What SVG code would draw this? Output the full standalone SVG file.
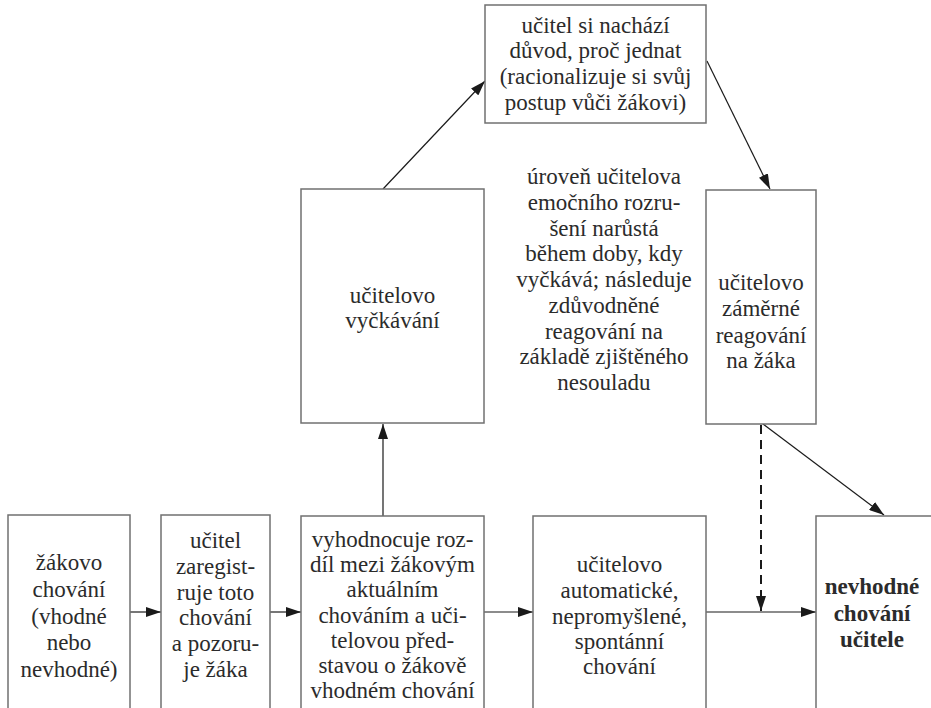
<svg xmlns="http://www.w3.org/2000/svg" width="931" height="708" viewBox="0 0 931 708">
<style>
.box{fill:#fff;stroke:#707070;stroke-width:1.5}
.t{font-family:"Liberation Serif","Times New Roman",serif;font-size:23px;fill:#2b2b2b;text-anchor:middle}
.b{font-weight:bold}
.c{stroke:#1a1a1a;stroke-width:1.2;fill:none}
.d{stroke:#1a1a1a;stroke-width:2;stroke-dasharray:9 6;fill:none}
</style>
<defs>
<marker id="ah" viewBox="0 0 15 10" refX="15" refY="5" markerWidth="15" markerHeight="10" markerUnits="userSpaceOnUse" orient="auto">
<path d="M0,0 L15,5 L0,10 z" fill="#1a1a1a"/>
</marker>
</defs>
<rect width="931" height="708" fill="#fff"/>
<g id="connectors">
<line class="c" x1="130" y1="612" x2="161" y2="612" marker-end="url(#ah)"/>
<line class="c" x1="270" y1="612" x2="301" y2="612" marker-end="url(#ah)"/>
<line class="c" x1="484" y1="612" x2="533" y2="612" marker-end="url(#ah)"/>
<line class="c" x1="706" y1="612" x2="816" y2="612" marker-end="url(#ah)"/>
<line class="c" x1="383" y1="516" x2="383" y2="424" marker-end="url(#ah)"/>
<line class="c" x1="383" y1="189" x2="485" y2="81" marker-end="url(#ah)"/>
<line class="c" x1="707" y1="61" x2="770" y2="189" marker-end="url(#ah)"/>
<line class="c" x1="763" y1="424" x2="884" y2="515" marker-end="url(#ah)"/>
<line class="d" x1="761" y1="425" x2="761" y2="611" marker-end="url(#ah)"/>
</g>
<g id="n1">
<rect class="box" x="8" y="515" width="122" height="200"/>
<text class="t" x="69" y="570">žákovo</text>
<text class="t" x="69" y="597">chování</text>
<text class="t" x="69" y="624">(vhodné</text>
<text class="t" x="69" y="650">nebo</text>
<text class="t" x="69" y="677">nevhodné)</text>
</g>
<g id="n2">
<rect class="box" x="161" y="515" width="109" height="200"/>
<text class="t" x="215.5" y="548">učitel</text>
<text class="t" x="215.5" y="574">zaregist-</text>
<text class="t" x="215.5" y="600">ruje toto</text>
<text class="t" x="215.5" y="625">chování</text>
<text class="t" x="215.5" y="651">a pozoru-</text>
<text class="t" x="215.5" y="677">je žáka</text>
</g>
<g id="n3">
<rect class="box" x="301" y="516" width="183" height="200"/>
<text class="t" x="392.5" y="547">vyhodnocuje roz-</text>
<text class="t" x="392.5" y="572">díl mezi žákovým</text>
<text class="t" x="392.5" y="597">aktuálním</text>
<text class="t" x="392.5" y="623">chováním a uči-</text>
<text class="t" x="392.5" y="648">telovou před-</text>
<text class="t" x="392.5" y="673">stavou o žákově</text>
<text class="t" x="392.5" y="698">vhodném chování</text>
</g>
<g id="n4">
<rect class="box" x="533" y="516" width="173" height="200"/>
<text class="t" x="619.5" y="572">učitelovo</text>
<text class="t" x="619.5" y="598">automatické,</text>
<text class="t" x="619.5" y="624">nepromyšlené,</text>
<text class="t" x="619.5" y="649">spontánní</text>
<text class="t" x="619.5" y="674">chování</text>
</g>
<g id="n5">
<rect class="box" x="816" y="516" width="130" height="200"/>
<text class="t b" x="872" y="594">nevhodné</text>
<text class="t b" x="872" y="621">chování</text>
<text class="t b" x="872" y="647">učitele</text>
</g>
<g id="n6">
<rect class="box" x="301" y="189" width="183" height="234"/>
<text class="t" x="392.5" y="303">učitelovo</text>
<text class="t" x="392.5" y="328">vyčkávání</text>
</g>
<g id="n7">
<rect class="box" x="485" y="5" width="221" height="118"/>
<text class="t" x="595.5" y="33">učitel si nachází</text>
<text class="t" x="595.5" y="58">důvod, proč jednat</text>
<text class="t" x="595.5" y="84">(racionalizuje si svůj</text>
<text class="t" x="595.5" y="110">postup vůči žákovi)</text>
</g>
<g id="n8">
<rect class="box" x="706" y="190" width="110" height="234"/>
<text class="t" x="761" y="290">učitelovo</text>
<text class="t" x="761" y="316">záměrné</text>
<text class="t" x="761" y="343">reagování</text>
<text class="t" x="761" y="368">na žáka</text>
</g>
<g id="n9">
<text class="t" x="604" y="184">úroveň učitelova</text>
<text class="t" x="604" y="210">emočního rozru-</text>
<text class="t" x="604" y="236">šení narůstá</text>
<text class="t" x="604" y="261">během doby, kdy</text>
<text class="t" x="604" y="287">vyčkává; následuje</text>
<text class="t" x="604" y="313">zdůvodněné</text>
<text class="t" x="604" y="339">reagování na</text>
<text class="t" x="604" y="364">základě zjištěného</text>
<text class="t" x="604" y="390">nesouladu</text>
</g>
</svg>
